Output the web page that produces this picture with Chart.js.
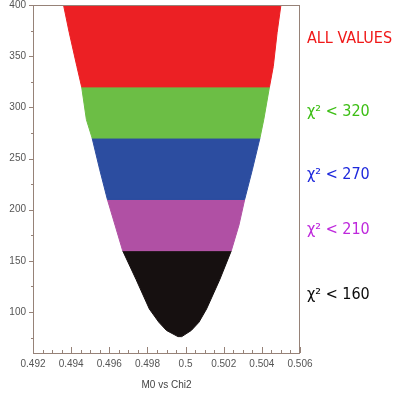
<!DOCTYPE html>
<html lang="en">
<head>
<meta charset="UTF-8">
<title>M0 vs Chi2</title>
<script src="https://cdn.jsdelivr.net/npm/chart.js"></script>
<style>
  body { margin: 0; background: #fff; }
  .wrap { position: relative; width: 396px; height: 401px; }
  .band-label {
    position: absolute;
    left: 307px;
    font-family: "DejaVu Sans Condensed", "DejaVu Sans", sans-serif;
    font-size: 16px;
    line-height: 16px;
    white-space: nowrap;
  }
</style>
</head>
<body>
<div class="wrap">
  <canvas id="chart" width="396" height="401"></canvas>
</div>

<script>
// outline of the cloud of points (chi2 level -> left / right edge in M0)
const chi2Levels = [400, 373, 340, 320, 288, 270, 239, 210, 185, 160, 132, 103, 90, 82, 76];
const leftEdge  = [0.4936, 0.4939, 0.4943, 0.49455, 0.4948, 0.4951, 0.4955, 0.4959, 0.4963, 0.4967, 0.4974, 0.4981, 0.4986, 0.4990, 0.4996];
const rightEdge = [0.5050, 0.5048, 0.5046, 0.5044, 0.5041, 0.5039, 0.5035, 0.5031, 0.5028, 0.5024, 0.5018, 0.5011, 0.5007, 0.5003, 0.4998];

// the chi2 cuts
const bandNames   = ['ALL VALUES', 'χ² < 320', 'χ² < 270', 'χ² < 210', 'χ² < 160'];
const bandTops    = [400, 320, 270, 210, 160];
const bandBottoms = [320, 270, 210, 160, 60];
const bandFill    = ['rgb(236, 32, 36)', 'rgb(108, 190, 69)', 'rgb(44, 77, 160)', 'rgb(176, 80, 164)', 'rgb(22, 16, 16)'];
const labelColors = ['rgb(240, 24, 24)', 'rgb(60, 190, 20)', 'rgb(30, 40, 220)', 'rgb(190, 40, 220)', 'rgb(10, 10, 10)'];
const labelTops   = [30, 103, 166, 221, 286];

// tick labels
const xTicks = [0.492, 0.494, 0.496, 0.498, 0.5, 0.502, 0.504, 0.506];
const yTicks = [100, 150, 200, 250, 300, 350, 400];

const axisColor = 'rgb(150, 130, 120)';

function bandPolygon(top, bottom) {
    const idx = chi2Levels.map((v, i) => i).filter(i => chi2Levels[i] <= top && chi2Levels[i] >= bottom);
    const left = idx.map(i => ({ x: leftEdge[i], y: chi2Levels[i] }));
    const right = idx.slice().reverse().map(i => ({ x: rightEdge[i], y: chi2Levels[i] }));
    return left.concat(right);
}

const datasets = bandNames.map((name, i) => ({
    label: name,
    data: bandPolygon(bandTops[i], bandBottoms[i]),
    backgroundColor: bandFill[i],
    borderColor: bandFill[i],
    borderWidth: 1,
    pointRadius: 0,
    fill: 'shape',
    tension: 0
}));

// small ticks: x ticks point inside the frame, y ticks outside
const axisTicks = {
    id: 'axisTicks',
    afterDraw(chart) {
        const { ctx, chartArea: a, scales: { x, y } } = chart;
        ctx.save();
        ctx.strokeStyle = axisColor;
        ctx.lineWidth = 1;
        ctx.strokeRect(a.left + 0.5, a.top + 0.5, a.width - 1, a.height);
        ctx.beginPath();
        const nx = Math.round((x.max - x.min) / 0.0005);
        for (let i = 0; i <= nx; i++) {
            const px = Math.round(x.getPixelForValue(x.min + i * 0.0005)) + 0.5;
            const len = i % 4 === 0 ? 6 : 3;
            ctx.moveTo(px, a.bottom);
            ctx.lineTo(px, a.bottom - len);
        }
        for (let v = 75; v <= 400; v += 25) {
            const py = Math.round(y.getPixelForValue(v)) + 0.5;
            const len = v % 50 === 0 ? 4 : 2;
            ctx.moveTo(a.left, py);
            ctx.lineTo(a.left - len, py);
        }
        ctx.stroke();
        ctx.restore();
    }
};

new Chart(document.getElementById('chart'), {
    type: 'line',
    data: { datasets: datasets },
    options: {
        responsive: false,
        animation: false,
        layout: { padding: { top: 5, right: 96, left: 0, bottom: 0 } },
        plugins: {
            legend: { display: false },
            tooltip: { enabled: false }
        },
        scales: {
            x: {
                type: 'linear',
                min: 0.492,
                max: 0.506,
                afterBuildTicks: s => { s.ticks = xTicks.map(v => ({ value: v })); },
                afterFit: s => { s.height = 48; },
                grid: { display: false, drawTicks: false },
                border: { display: false },
                ticks: {
                    padding: 5,
                    maxRotation: 0,
                    autoSkip: false,
                    color: '#555',
                    font: { family: 'Liberation Sans', size: 10 },
                    callback: v => String(+v.toFixed(3))
                },
                title: {
                    display: true,
                    text: 'M0 vs Chi2',
                    color: '#444',
                    font: { family: 'Liberation Sans', size: 10 },
                    padding: { top: 4, bottom: 10 }
                }
            },
            y: {
                type: 'linear',
                min: 60,
                max: 400,
                afterBuildTicks: s => { s.ticks = yTicks.map(v => ({ value: v })); },
                afterFit: s => { s.width = 33; s.paddingTop = 0; s.paddingBottom = 0; },
                grid: { display: false, drawTicks: false },
                border: { display: false },
                ticks: {
                    padding: 7,
                    color: '#555',
                    font: { family: 'Liberation Sans', size: 10 }
                }
            }
        }
    },
    plugins: [axisTicks]
});

// labels for the cuts at the right side
const wrap = document.querySelector('.wrap');
bandNames.forEach((name, i) => {
    const el = document.createElement('div');
    el.className = 'band-label';
    el.style.top = labelTops[i] + 'px';
    el.style.color = labelColors[i];
    el.textContent = name;
    wrap.appendChild(el);
});
</script>
</body>
</html>
